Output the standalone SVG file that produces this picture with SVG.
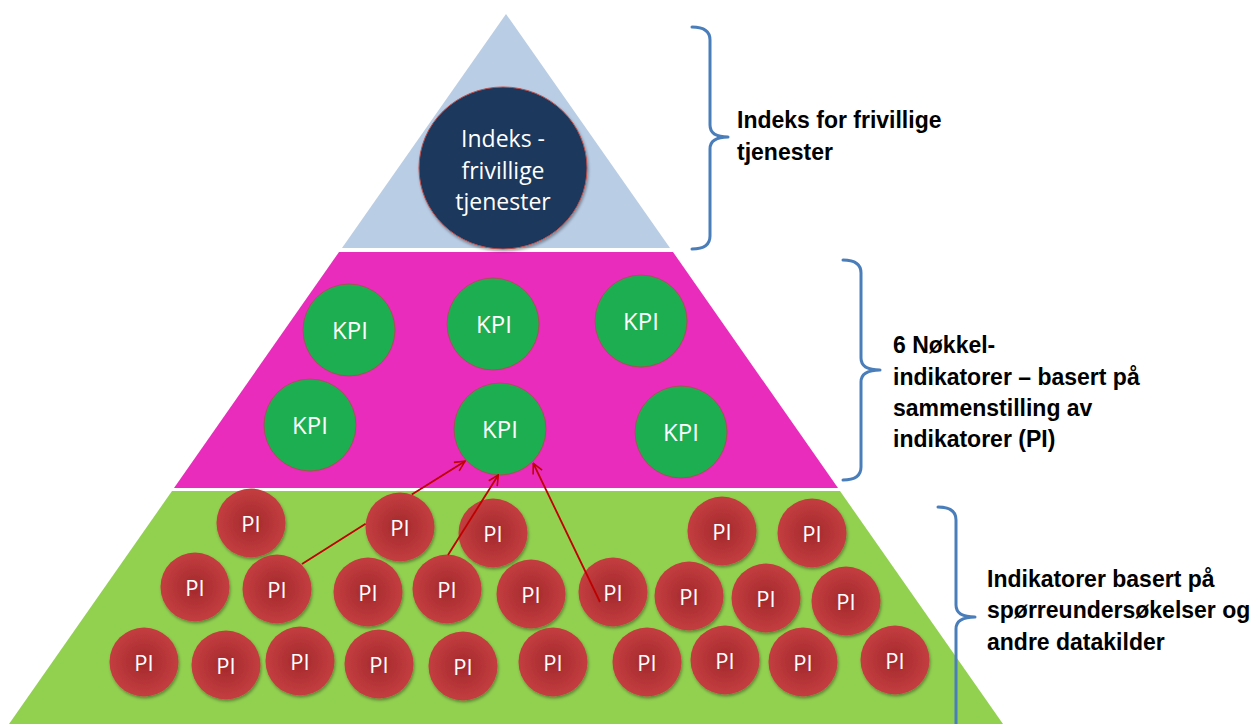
<svg xmlns="http://www.w3.org/2000/svg" width="1253" height="724" viewBox="0 0 1253 724">
<defs>
<style>
.lbl{font-family:"Liberation Sans",Arial,sans-serif;font-weight:bold;font-size:23px;fill:#000}
.brace{fill:none;stroke:#4a7ebb;stroke-width:3;stroke-linecap:round;stroke-linejoin:round}
.kpi{fill:#1dae51;stroke:#b5464a;stroke-width:0.8}
.pi{fill:url(#piGrad);filter:url(#shadow)}
.ct{font-family:"Open Sans","Liberation Sans",sans-serif;fill:#fff;text-anchor:middle}
.kt{font-size:24px}
.pt{font-size:22px}
.conn{fill:none;stroke:#c00000;stroke-width:1.8;marker-end:url(#arr)}
</style>
<radialGradient id="piGrad" cx="50%" cy="50%" r="50%">
<stop offset="0" stop-color="#a3282b"/>
<stop offset="1" stop-color="#c43e40"/>
</radialGradient>
<filter id="shadow" x="-30%" y="-30%" width="160%" height="160%">
<feDropShadow dx="1" dy="2" stdDeviation="1.5" flood-color="#000" flood-opacity="0.35"/>
</filter>
<marker id="arr" viewBox="0 0 12 12" refX="11" refY="6" markerWidth="12" markerHeight="12" markerUnits="userSpaceOnUse" orient="auto">
<path d="M1,1 L11,6 L1,11" fill="none" stroke="#c00000" stroke-width="1.6"/>
</marker>
</defs>
<rect width="1253" height="724" fill="#fff"/>
<g id="pyramid">
<polygon points="506,14 670,248 342,248" fill="#b9cde5"/>
<polygon points="339,252 673,252 838,488 174,488" fill="#ea2cbd"/>
<polygon points="172,491 840,491 1003,724 9,724" fill="#92d050"/>
</g>
<g id="braces">
<path class="brace" d="M692,27 Q710,27 710,40 L710,125 Q710,137 728,137 Q710,137 710,149 L710,236 Q710,249 692,249"/>
<path class="brace" d="M843,260 Q861,260 861,273 L861,358 Q861,370 880,370 Q861,370 861,382 L861,467 Q861,480 843,480"/>
<path class="brace" d="M938,507 Q956,507 956,520 L956,605 Q956,617 975,617 Q956,617 956,629 L956,730"/>
</g>
<g id="labels">
<text class="lbl" x="737" y="128">Indeks for frivillige</text>
<text class="lbl" x="737" y="160">tjenester</text>
<text class="lbl" x="893" y="353">6 Nøkkel-</text>
<text class="lbl" x="893" y="385">indikatorer – basert på</text>
<text class="lbl" x="893" y="416">sammenstilling av</text>
<text class="lbl" x="893" y="447">indikatorer (PI)</text>
<text class="lbl" x="987" y="587">Indikatorer basert på</text>
<text class="lbl" x="987" y="618">spørreundersøkelser og</text>
<text class="lbl" x="987" y="650">andre datakilder</text>
</g>
<g id="index">
<ellipse cx="503" cy="168" rx="84" ry="81" fill="#1b375b" stroke="#c0504d" stroke-width="1" filter="url(#shadow)"/>
<text class="ct" x="503" y="147" font-size="23">Indeks -</text>
<text class="ct" x="503" y="179" font-size="23">frivillige</text>
<text class="ct" x="503" y="210" font-size="23">tjenester</text>
</g>
<g id="kpi1"><circle class="kpi" cx="349" cy="330" r="46"/><text class="ct kt" x="350" y="339">KPI</text></g>
<g id="kpi2"><circle class="kpi" cx="493" cy="324" r="46"/><text class="ct kt" x="494" y="333">KPI</text></g>
<g id="kpi3"><circle class="kpi" cx="641" cy="321" r="46"/><text class="ct kt" x="641" y="330">KPI</text></g>
<g id="kpi4"><circle class="kpi" cx="310" cy="425" r="46"/><text class="ct kt" x="310" y="434">KPI</text></g>
<g id="kpi5"><circle class="kpi" cx="500" cy="429" r="46"/><text class="ct kt" x="500" y="438">KPI</text></g>
<g id="kpi6"><circle class="kpi" cx="681" cy="432" r="46"/><text class="ct kt" x="681" y="441">KPI</text></g>
<g id="pi-a"><circle class="pi" cx="251" cy="523" r="34.5"/><text class="ct pt" x="251" y="532">PI</text></g>
<g id="pi-b"><circle class="pi" cx="400" cy="527" r="34.5"/><text class="ct pt" x="400" y="536">PI</text></g>
<g id="pi-c"><circle class="pi" cx="493" cy="533" r="34.5"/><text class="ct pt" x="493" y="542">PI</text></g>
<g id="pi-o"><circle class="pi" cx="722" cy="531" r="34.5"/><text class="ct pt" x="722" y="540">PI</text></g>
<g id="pi-p"><circle class="pi" cx="812" cy="533" r="34.5"/><text class="ct pt" x="812" y="542">PI</text></g>
<g id="pi-d"><circle class="pi" cx="195" cy="587" r="34.5"/><text class="ct pt" x="195" y="596">PI</text></g>
<g id="pi-e"><circle class="pi" cx="277" cy="589" r="34.5"/><text class="ct pt" x="277" y="598">PI</text></g>
<g id="pi-f"><circle class="pi" cx="368" cy="592" r="34.5"/><text class="ct pt" x="368" y="601">PI</text></g>
<g id="pi-g"><circle class="pi" cx="447" cy="589" r="34.5"/><text class="ct pt" x="447" y="598">PI</text></g>
<g id="pi-h"><circle class="pi" cx="531" cy="594" r="34.5"/><text class="ct pt" x="531" y="603">PI</text></g>
<g id="pi-q"><circle class="pi" cx="613" cy="592" r="34.5"/><text class="ct pt" x="613" y="601">PI</text></g>
<g id="pi-r"><circle class="pi" cx="689" cy="596" r="34.5"/><text class="ct pt" x="689" y="605">PI</text></g>
<g id="pi-s"><circle class="pi" cx="766" cy="598" r="34.5"/><text class="ct pt" x="766" y="607">PI</text></g>
<g id="pi-t"><circle class="pi" cx="846" cy="601" r="34.5"/><text class="ct pt" x="846" y="610">PI</text></g>
<g id="pi-i"><circle class="pi" cx="144" cy="662" r="34.5"/><text class="ct pt" x="144" y="671">PI</text></g>
<g id="pi-j"><circle class="pi" cx="226" cy="665" r="34.5"/><text class="ct pt" x="226" y="674">PI</text></g>
<g id="pi-k"><circle class="pi" cx="300" cy="661" r="34.5"/><text class="ct pt" x="300" y="670">PI</text></g>
<g id="pi-l"><circle class="pi" cx="379" cy="664" r="34.5"/><text class="ct pt" x="379" y="673">PI</text></g>
<g id="pi-m"><circle class="pi" cx="463" cy="666" r="34.5"/><text class="ct pt" x="463" y="675">PI</text></g>
<g id="pi-n"><circle class="pi" cx="553" cy="662" r="34.5"/><text class="ct pt" x="553" y="671">PI</text></g>
<g id="pi-u"><circle class="pi" cx="647" cy="662" r="34.5"/><text class="ct pt" x="647" y="671">PI</text></g>
<g id="pi-v"><circle class="pi" cx="725" cy="660" r="34.5"/><text class="ct pt" x="725" y="669">PI</text></g>
<g id="pi-w"><circle class="pi" cx="803" cy="662" r="34.5"/><text class="ct pt" x="803" y="671">PI</text></g>
<g id="pi-x"><circle class="pi" cx="895" cy="660" r="34.5"/><text class="ct pt" x="895" y="669">PI</text></g>
<g id="connectors">
<path class="conn" d="M302,564 L365.6,523.8 M411.8,494.6 L465,461.3"/>
<path class="conn" d="M448,555 L498.3,475"/>
<path class="conn" d="M600,602 L533.3,463.3"/>
</g>
</svg>
